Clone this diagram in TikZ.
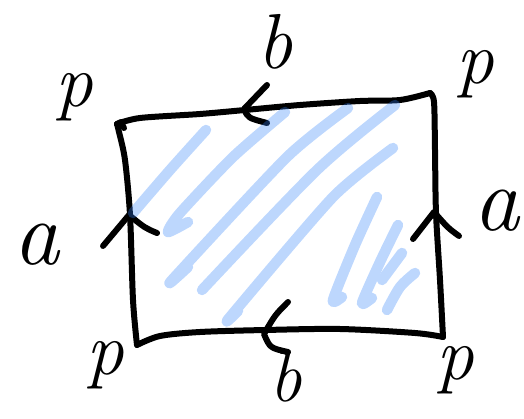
\documentclass[tikz,border=0pt]{standalone}
\usepackage{fontspec}
\tikzset{
  edge/.style={line width=6pt, line cap=round, line join=round, black},
  chev/.style={line width=6pt, line cap=round, line join=round, black},
  hatch/.style={line width=10.5pt, line cap=round, line join=round, draw={rgb,255:red,50;green,130;blue,250}},
  lblp/.style={inner sep=0pt, font=\fontsize{75}{75}\selectfont\itshape},
  lbla/.style={inner sep=0pt, font=\fontsize{92}{92}\selectfont\itshape},
  lblb/.style={inner sep=0pt, font=\fontsize{78}{78}\selectfont\itshape}
}
\begin{document}
\begin{tikzpicture}[x=1pt,y=-1pt]
\useasboundingbox (0,0) rectangle (524,419);
% corners
\coordinate (TL) at (117,124);
\coordinate (TR) at (430,93);
\coordinate (BR) at (443,337);
\coordinate (BL) at (137,345);
% square edges (hand drawn)
\draw[edge] plot[smooth, tension=0.5] coordinates {(TL) (140,118) (200,114) (245,110) (300,105) (360,101) (400,100) (TR)};
\draw[edge] plot[smooth, tension=0.5] coordinates {(TR) (434,102) (435,150) (436,213) (440,280) (BR)};
\draw[edge] plot[smooth, tension=0.5] coordinates {(BR) (415,333) (340,329) (265,330) (200,332) (160,336) (BL)};
\draw[edge] plot[smooth, tension=0.5] coordinates {(BL) (133,300) (130,215) (125,160) (119,132) (TL)};
\draw[edge] (TL) -- (121,122) -- (124,128);
% arrow chevrons
\coordinate (tA) at (244,109);
\coordinate (lA) at (129,215);
\coordinate (rA) at (434,212);
\coordinate (bA) at (264,334);
\draw[chev] (267,85) -- (tA) .. controls (248,118) .. (267,123);
\draw[chev] (103,246) -- (lA) .. controls (145,228) .. (157,233);
\draw[chev] (413,239) -- (rA) .. controls (448,228) .. (459,236);
\draw[chev] (288,302) .. controls (275,315) .. (bA) .. controls (270,348) .. (288,352);
% hatching (semi-transparent marker over the outline)
\begin{scope}[transparency group, opacity=0.32]
\draw[hatch] plot[smooth] coordinates {(206,130) (170,170) (133,213)};
\draw[hatch] plot[smooth, tension=0.4] coordinates {(285,112) (233,157) (180,213) (168,232) (188,222)};
\draw[hatch] plot[smooth, tension=0.4] coordinates {(348,108) (287,157) (172,280) (188,267)};
\draw[hatch] plot[smooth] coordinates {(395,105) (317,170) (202,290)};
\draw[hatch] plot[smooth, tension=0.4] coordinates {(393,148) (333,197) (230,317) (238,311)};
\draw[hatch] plot[smooth, tension=0.4] coordinates {(377,197) (355,245) (333,300) (342,297)};
\draw[hatch] plot[smooth, tension=0.4] coordinates {(398,225) (380,262) (362,303) (372,298)};
\draw[hatch] (402,253) -- (382,280);
\draw[hatch] plot[smooth] coordinates {(415,273) (400,287) (387,310)};
\end{scope}
% labels
\node[lblb] (bTop) at (275,42) {b};
\node[lblb, font=\fontsize{72}{72}\selectfont\itshape] (bBot) at (286,377) {b};
\node[lblp] (pTL) at (74,97) {p};
\node[lblp] (pTR) at (475,74) {p};
\node[lblp] (pBL) at (105,365) {p};
\node[lblp] (pBR) at (455,370) {p};
\node[lbla] (aL) at (36,245) {a};
\node[lbla] (aR) at (496,211) {a};
\end{tikzpicture}
\end{document}
